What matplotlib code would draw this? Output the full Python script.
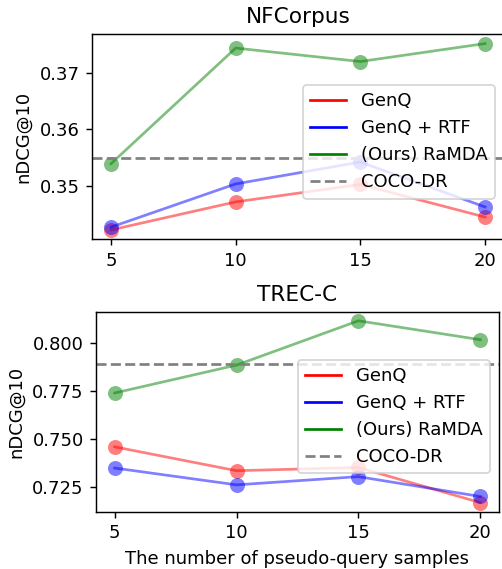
import matplotlib
matplotlib.use("Agg")
import matplotlib.pyplot as plt
from matplotlib.lines import Line2D

samples = [5, 10, 15, 20]

# NFCorpus
nf_genq = [0.3421, 0.3471, 0.3502, 0.3444]
nf_rtf = [0.3426, 0.3503, 0.3542, 0.3462]
nf_ramda = [0.3539, 0.3745, 0.3721, 0.3753]
nf_coco = 0.3550

# TREC-C
tc_genq = [0.7458, 0.7333, 0.7350, 0.7166]
tc_rtf = [0.7347, 0.7259, 0.7302, 0.7198]
tc_ramda = [0.7740, 0.7886, 0.8118, 0.8019]
tc_coco = 0.7893

names = ['GenQ', 'GenQ + RTF', '(Ours) RaMDA', 'COCO-DR']
colors = ['red', 'blue', 'green']

fig = plt.figure(figsize=(502/130, 569/130), dpi=130)
ax1 = fig.add_axes([0.1839, 0.5795, 0.8195, 0.3603])
ax2 = fig.add_axes([0.1920, 0.1007, 0.8012, 0.3515])

def draw(ax, series, coco, title):
    for vals, c in zip(series, colors):
        ax.plot(samples, vals, color=c, alpha=0.5, lw=1.5, marker='o',
                markersize=8.3, markeredgewidth=0)
    ax.axhline(coco, color='gray', linestyle='--', lw=1.5)
    ax.set_title(title)
    ax.set_ylabel('nDCG@10')
    ax.set_xticks(samples)
    handles = [Line2D([], [], color=c, lw=1.5) for c in colors]
    handles.append(Line2D([], [], color='gray', lw=1.5, linestyle='--'))
    ax.legend(handles, names, loc='center right', bbox_to_anchor=(1, 0.475))

draw(ax1, [nf_genq, nf_rtf, nf_ramda], nf_coco, 'NFCorpus')
ax1.set_yticks([0.35, 0.36, 0.37])
draw(ax2, [tc_genq, tc_rtf, tc_ramda], tc_coco, 'TREC-C')
ax2.set_yticks([0.725, 0.75, 0.775, 0.8])
ax2.set_xlabel('The number of pseudo-query samples')

fig.savefig('out.png', dpi=130)
